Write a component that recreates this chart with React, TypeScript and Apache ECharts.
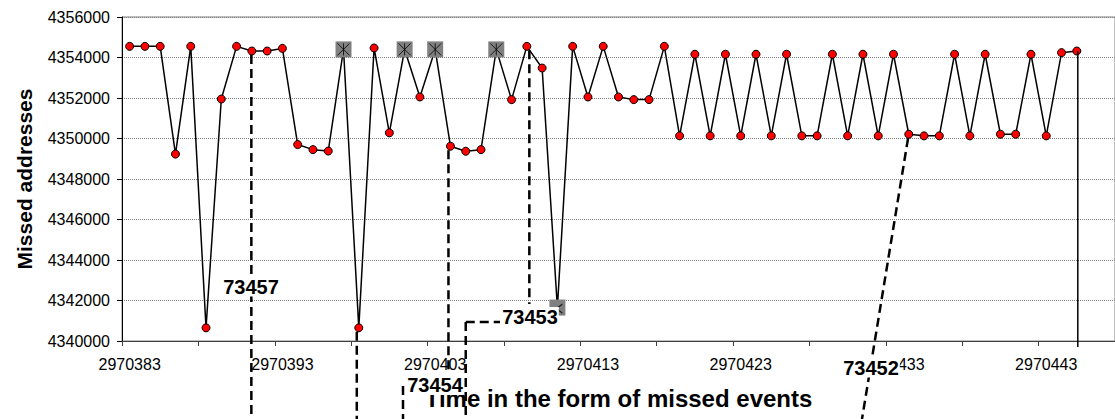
import React, { useEffect, useRef } from "react";
import * as echarts from "echarts";

// Event axis: one category per missed event, labelled every 10, ticked every 5
const FIRST_EVENT = 2970383;
const EVENT_COUNT = 65;
const events = Array.from({ length: EVENT_COUNT }, (_, i) => String(FIRST_EVENT + i));

// Missed address for each event, in order
const missedAddresses = [
  4354550, 4354550, 4354550, 4349230, 4354550, 4340650, 4351950, 4354550, 4354320, 4354320,
  4354450, 4349700, 4349450, 4349380, 4354400, 4340650, 4354470, 4350280, 4354400, 4352050,
  4354400, 4349620, 4349370, 4349450, 4354400, 4351920, 4354550, 4353480, 4341650, 4354550,
  4352050, 4354550, 4352050, 4351920, 4351920, 4354550, 4350130, 4354160, 4350130, 4354160,
  4350130, 4354160, 4350130, 4354160, 4350130, 4350130, 4354160, 4350130, 4354160, 4350130,
  4354160, 4350210, 4350130, 4350130, 4354160, 4350130, 4354160, 4350210, 4350210, 4354160,
  4350130, 4354240, 4354320,
];

// Events drawn with the grey square marker
const flaggedEvents = [14, 18, 20, 24];
const partialFlagEvents = [28];

// Value axis
const Y_MIN = 4340000;
const Y_MAX = 4356000;
const Y_STEP = 2000;

// Call-out labels
const calloutLabels = ["73457", "73454", "73453", "73452"];

const FONT = '"Liberation Sans", Arial, sans-serif';
const STAR = "path://M0,0L12,12M12,0L0,12M6,0L6,12";
const HALF_STAR = "path://M6,0L0,4.5L6,9";

export default function App() {
  const ref = useRef<HTMLDivElement>(null);

  useEffect(() => {
    if (!ref.current) return;
    const chart = echarts.init(ref.current, undefined, { renderer: "svg" });

    const squareIdx = [...flaggedEvents, ...partialFlagEvents];
    const lineData = missedAddresses.map((v, i) =>
      squareIdx.includes(i)
        ? {
            value: v,
            symbol: "rect",
            symbolSize: 16,
            itemStyle: { color: "#808080", borderColor: "#808080", borderWidth: 0 },
          }
        : v
    );

    chart.setOption({
      animation: false,
      grid: {
        left: 122,
        top: 17,
        width: 994,
        height: 324,
        show: true,
        borderColor: "#808080",
        borderWidth: 1,
        backgroundColor: "transparent",
      },
      xAxis: {
        type: "category",
        data: events,
        boundaryGap: true,
        name: "Time in the form of missed events",
        nameLocation: "middle",
        nameGap: 45,
        nameTextStyle: { fontFamily: FONT, fontWeight: "bold", fontSize: 24, color: "#000" },
        axisLine: { lineStyle: { color: "#404040", width: 1 } },
        axisTick: { show: true, interval: 4, length: 5, alignWithLabel: false, lineStyle: { color: "#404040" } },
        axisLabel: { interval: 9, margin: 15, fontFamily: FONT, fontSize: 16, color: "#000" },
        splitLine: { show: false },
      },
      yAxis: {
        type: "value",
        min: Y_MIN,
        max: Y_MAX,
        interval: Y_STEP,
        name: "Missed addresses",
        nameLocation: "middle",
        nameRotate: 90,
        nameGap: 87,
        nameTextStyle: { fontFamily: FONT, fontWeight: "bold", fontSize: 21, color: "#000" },
        axisLine: { show: true, lineStyle: { color: "#000", width: 1 } },
        axisTick: { show: true, length: 5, lineStyle: { color: "#000" } },
        axisLabel: { margin: 12, fontFamily: FONT, fontSize: 16, color: "#000", formatter: (v: number) => String(v) },
        splitLine: { show: true, lineStyle: { color: "#808080", width: 1, type: [1, 1] } },
      },
      series: [
        {
          type: "line",
          data: lineData,
          symbol: "circle",
          symbolSize: 8,
          showAllSymbol: true,
          itemStyle: { color: "#ff0000", borderColor: "#000", borderWidth: 1 },
          lineStyle: { color: "#000", width: 1.5 },
          silent: true,
          z: 2,
        },
        {
          type: "scatter",
          data: flaggedEvents.map((i) => [i, missedAddresses[i]]),
          symbol: STAR,
          symbolSize: 12,
          itemStyle: { color: "transparent", borderColor: "#000", borderWidth: 1 },
          silent: true,
          z: 4,
        },
        {
          type: "scatter",
          data: partialFlagEvents.map((i) => [i, missedAddresses[i]]),
          symbol: HALF_STAR,
          symbolSize: [6, 9],
          symbolOffset: [2, 1],
          itemStyle: { color: "transparent", borderColor: "#000", borderWidth: 1 },
          silent: true,
          z: 4,
        },
      ],
    });

    // Call-outs anchored on the events they point at
    const at = (i: number) =>
      chart.convertToPixel({ xAxisIndex: 0, yAxisIndex: 0 }, [i, missedAddresses[i]]) as number[];
    const bottom = 419;
    const dash = { stroke: "#000", lineWidth: 2.5, lineDash: [9, 5], fill: "none" };
    const dashed = (x1: number, y1: number, x2: number, y2: number) => ({
      type: "line",
      silent: true,
      z: 100,
      shape: { x1, y1, x2, y2 },
      style: dash,
    });
    const label = (text: string, x: number, y: number) => ({
      type: "text",
      silent: true,
      z: 110,
      style: {
        text,
        x,
        y,
        align: "center",
        verticalAlign: "middle",
        font: `bold 20px ${FONT}`,
        fill: "#000",
        backgroundColor: "#fff",
        padding: [0, 1],
      },
    });

    const p8 = at(8);
    const p15 = at(15);
    const p21 = at(21);
    const p22 = at(22);
    const p26 = at(26);
    const p51 = at(51);
    const p62 = at(62);

    chart.setOption({
      graphic: [
        dashed(p8[0] - 0.5, p8[1] + 4, p8[0] - 0.5, bottom),
        dashed(p15[0] - 2, p15[1] + 4, p15[0] - 2, bottom),
        dashed(p21[0] - 2, p21[1] + 4, p21[0] - 2, 372),
        dashed(403, 386, 403, bottom),
        dashed(p22[0], 322, p22[0], bottom),
        dashed(p22[0], 322, 500, 322),
        dashed(p26[0] + 2.5, p26[1] + 4, p26[0] + 2.5, 304),
        dashed(p51[0] - 0.7, p51[1] + 4, 862, bottom),
        {
          type: "line",
          silent: true,
          z: 100,
          shape: { x1: p62[0] + 1, y1: p62[1], x2: p62[0] + 1, y2: 347 },
          style: { stroke: "#000", lineWidth: 1.5 },
        },
        label(calloutLabels[0], 251, 286.5),
        label(calloutLabels[1], 435, 385),
        label(calloutLabels[2], 530, 317),
        label(calloutLabels[3], 871, 367.5),
      ],
    });

    return () => chart.dispose();
  }, []);

  return (
    <div
      ref={ref}
      style={{ position: "fixed", left: 0, top: 0, width: 1115, height: 419, background: "#fff" }}
    />
  );
}
